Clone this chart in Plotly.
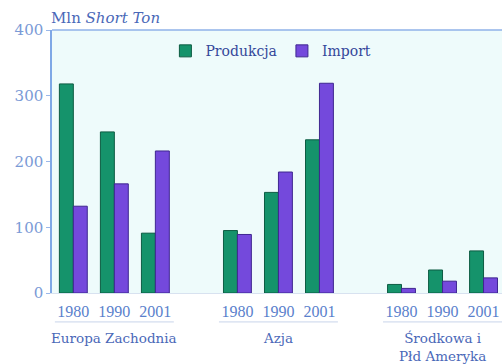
import plotly.graph_objects as go

regions = ["Europa Zachodnia", "Azja", "Środkowa i<br>Płd Ameryka"]
years = ["1980", "1990", "2001"]
produkcja = [[318, 245, 91], [95, 153, 233], [13, 35, 64]]
import_ = [[132, 166, 216], [89, 184, 319], [7, 18, 23]]
y_ticks = [0, 100, 200, 300, 400]

GREEN = "#15936b"
PURPLE = "#7449dc"
BLUE = "#5a7fcc"
SERIF = "DejaVu Serif"
TIMES = "Liberation Serif"

# each region takes three slots plus one empty slot as a gap
xs, p_vals, i_vals, tick_text = [], [], [], []
for g in range(len(regions)):
    for k, yr in enumerate(years):
        xs.append(g * 4 + k)
        p_vals.append(produkcja[g][k])
        i_vals.append(import_[g][k])
        tick_text.append(yr)

fig = go.Figure()
fig.add_trace(go.Bar(x=xs, y=p_vals, name="Produkcja",
                     marker=dict(color=GREEN, line=dict(color="#0d5c43", width=1))))
fig.add_trace(go.Bar(x=xs, y=i_vals, name="Import",
                     marker=dict(color=PURPLE, line=dict(color="#3f2790", width=1))))

# group labels and the thin rule under each group's years
for g, name in enumerate(regions):
    fig.add_annotation(x=g * 4 + 1, xref="x", y=0, yref="paper", yanchor="top",
                       yshift=-35, text=name, showarrow=False,
                       font=dict(family=SERIF, size=13.5, color="#4a68b8"))
    fig.add_shape(type="line", xref="x", yref="paper",
                  x0=g * 4 - 0.45, x1=g * 4 + 2.45, y0=-0.110, y1=-0.110,
                  line=dict(color="#c8d4ea", width=1))

fig.add_annotation(x=0, xref="paper", xanchor="left", xshift=-3,
                   y=1, yref="paper", yanchor="bottom", yshift=1,
                   text="Mln <i>Short Ton</i>", showarrow=False,
                   font=dict(family=SERIF, size=15, color="#4a68b8"))

fig.update_layout(
    width=502, height=364,
    margin=dict(l=52, r=0, t=30, b=71),
    paper_bgcolor="white", plot_bgcolor="#eefbfb",
    barmode="group", bargap=0.32, bargroupgap=0,
    showlegend=True,
    legend=dict(orientation="h", x=0.252, y=0.98, xanchor="left", yanchor="top",
                bgcolor="rgba(0,0,0,0)",
                font=dict(family=SERIF, size=14, color="#34479a")),
    xaxis=dict(range=[-0.52, 10.45], tickvals=xs, ticktext=tick_text,
               showgrid=False, zeroline=False, showline=True,
               linecolor="#d8e2f0", linewidth=1, mirror=False, ticks="",
               ticklabelstandoff=4,
               tickfont=dict(family=TIMES, size=16, color=BLUE)),
    yaxis=dict(range=[0, 400], tickvals=y_ticks, showgrid=False, zeroline=False,
               showline=True, linecolor="#7fa8e6", linewidth=1.5,
               ticks="outside", ticklen=4, tickcolor="#9ab8ea",
               tickfont=dict(family=SERIF, size=15, color="#7a9ad6")),
)
fig.add_shape(type="line", xref="paper", yref="paper", x0=0, x1=1, y0=1, y1=1,
              line=dict(color="#8fb2e8", width=1.5))

fig.write_html("out.html")
